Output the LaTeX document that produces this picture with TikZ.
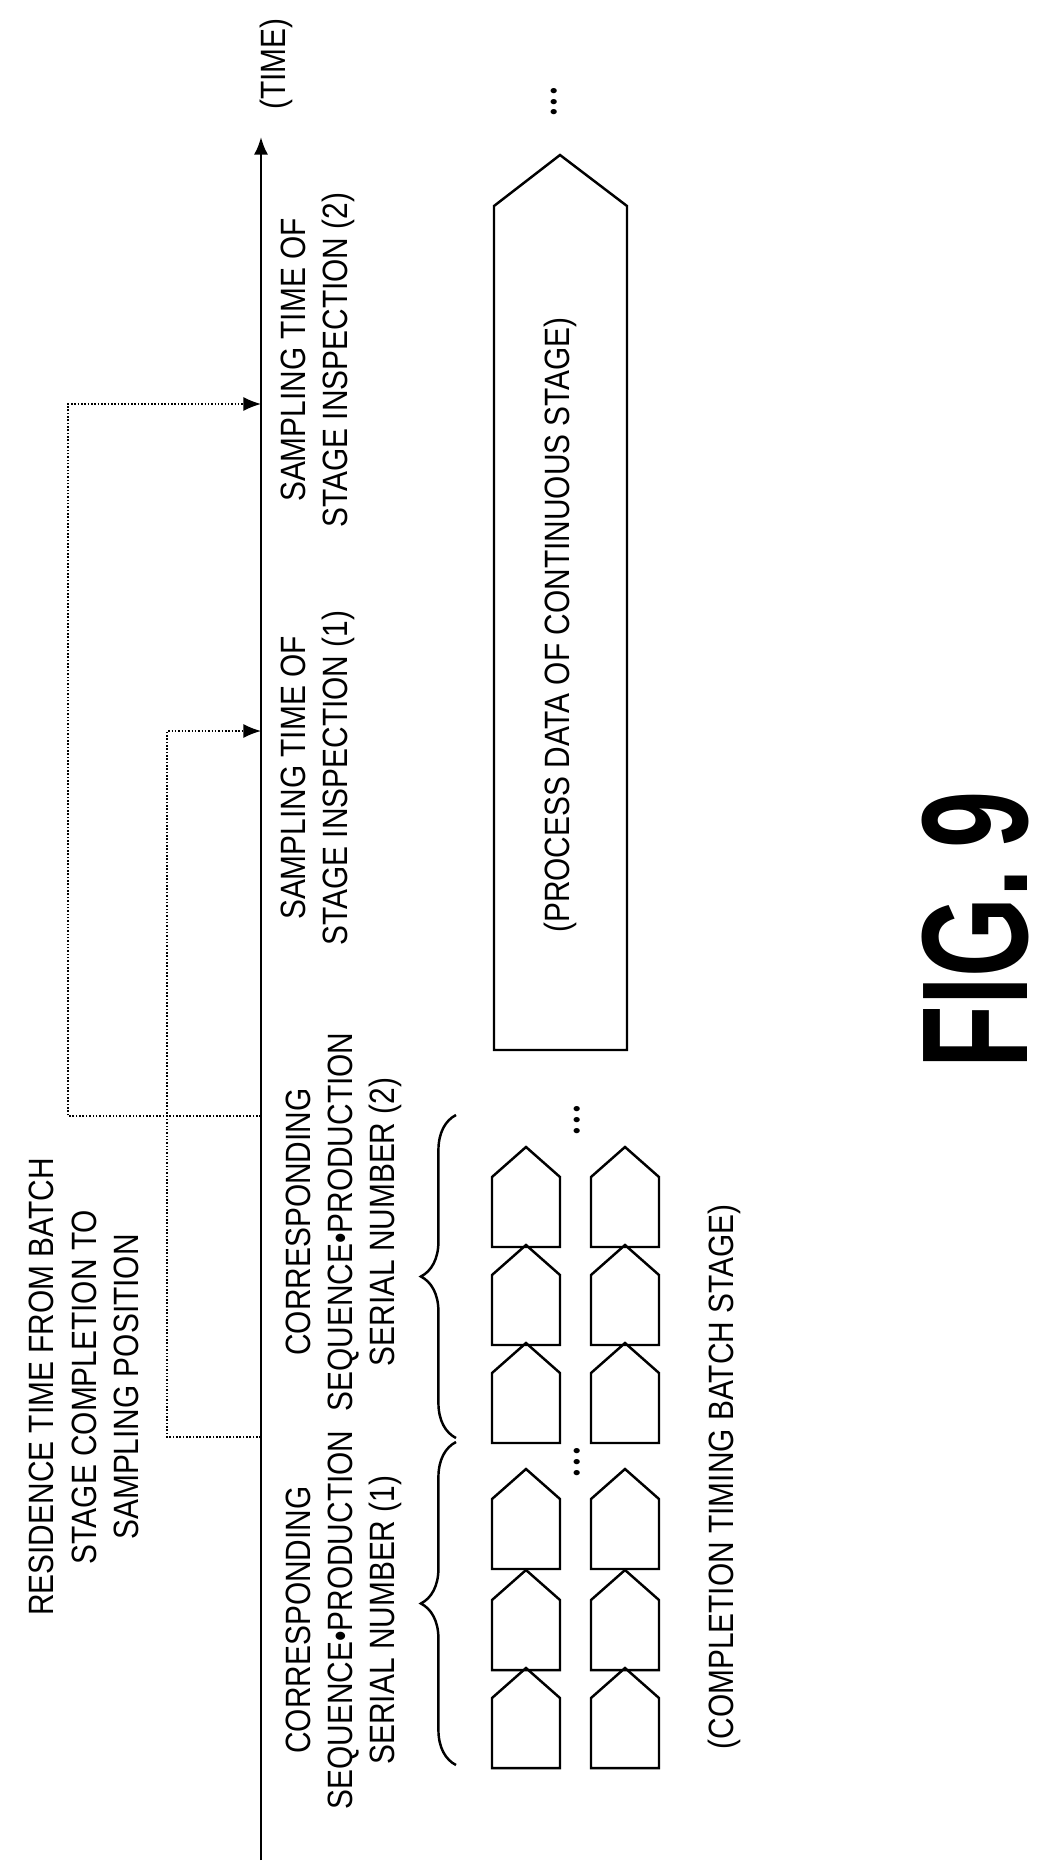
\documentclass[tikz,border=0pt]{standalone}
\usepackage{fontspec}
\setmainfont[FakeStretch=0.85]{Liberation Sans}
\usetikzlibrary{decorations.pathreplacing, positioning, arrows.meta}

\begin{document}
\begin{tikzpicture}[x=0.02cm, y=0.02cm,
	label/.style={rotate=90, align=center, font=\fontsize{20}{24}\selectfont, inner sep=0pt},
	piece/.style={draw, line width=1.4pt},
	tip/.style={-{Latex[length=10pt, width=8pt]}},
	link/.style={densely dotted, line width=0.9pt, tip},
	dots/.style={rotate=90, inner sep=0pt, font=\fontsize{13}{13}\selectfont},
	node distance=0.3cm]

	\useasboundingbox (0,0) rectangle (1052,-1865);

	% Time axis
	\coordinate (start) at (261,-1860);
	\coordinate (end) at (261,-137);
	\draw[line width=1.4pt, tip] (start) -- (end);
	\node[label] (time) at (276,-64) {(TIME)};

	% Residence time
	\node[label] (residence) at (84,-1387) {RESIDENCE TIME FROM BATCH\\STAGE COMPLETION TO\\SAMPLING POSITION};

	% Connectors
	\coordinate (c1) at (261,-1437);
	\coordinate (s1) at (261,-731);
	\coordinate (c2) at (261,-1116);
	\coordinate (s2) at (261,-404);
	\draw[link] (c1) -| (167,-731) -- (s1);
	\draw[link] (c2) -| (68,-404) -- (s2);

	% Labels along the axis
	\node[label] (serial1) at (344,-1620) {CORRESPONDING\\SEQUENCE\textbullet PRODUCTION\\SERIAL NUMBER (1)};
	\node[label] (serial2) at (344,-1222) {CORRESPONDING\\SEQUENCE\textbullet PRODUCTION\\SERIAL NUMBER (2)};
	\node[label] (sample1) at (318,-778) {SAMPLING TIME OF\\STAGE INSPECTION (1)};
	\node[label] (sample2) at (318,-360) {SAMPLING TIME OF\\STAGE INSPECTION (2)};

	% Braces
	\draw[decorate, decoration={brace, amplitude=20pt}, line width=1.4pt] (456,-1765) -- (456,-1442);
	\draw[decorate, decoration={brace, amplitude=20pt}, line width=1.4pt] (456,-1438) -- (456,-1115);

	% Batch stage pieces
	\foreach \x in {492,591}
		\foreach \y in {1768,1670,1569,1443,1345,1247}
			\draw[piece] (\x,-\y) -- (\x+68,-\y) -- (\x+68,-\y+70) -- (\x+34,-\y+100) -- (\x,-\y+70) -- cycle;
	\node[dots] (dots1) at (579,-1462) {\textbullet\,\textbullet\,\textbullet};
	\node[dots] (dots2) at (579,-1120) {\textbullet\,\textbullet\,\textbullet};
	\node[label] (batch) at (724,-1477) {(COMPLETION TIMING BATCH STAGE)};

	% Continuous stage
	\draw[piece] (494,-1050) -- (627,-1050) -- (627,-206) -- (560,-155) -- (494,-206) -- cycle;
	\node[label] (process) at (560,-625) {(PROCESS DATA OF CONTINUOUS STAGE)};
	\node[dots] (dots3) at (556,-102) {\textbullet\,\textbullet\,\textbullet};

	% Figure number
	\node[rotate=90, font=\fontsize{86}{86}\selectfont\bfseries, inner sep=0pt] (fig) at (975,-930) {\scalebox{0.8}[1]{FIG.\,9}};

\end{tikzpicture}
\end{document}
